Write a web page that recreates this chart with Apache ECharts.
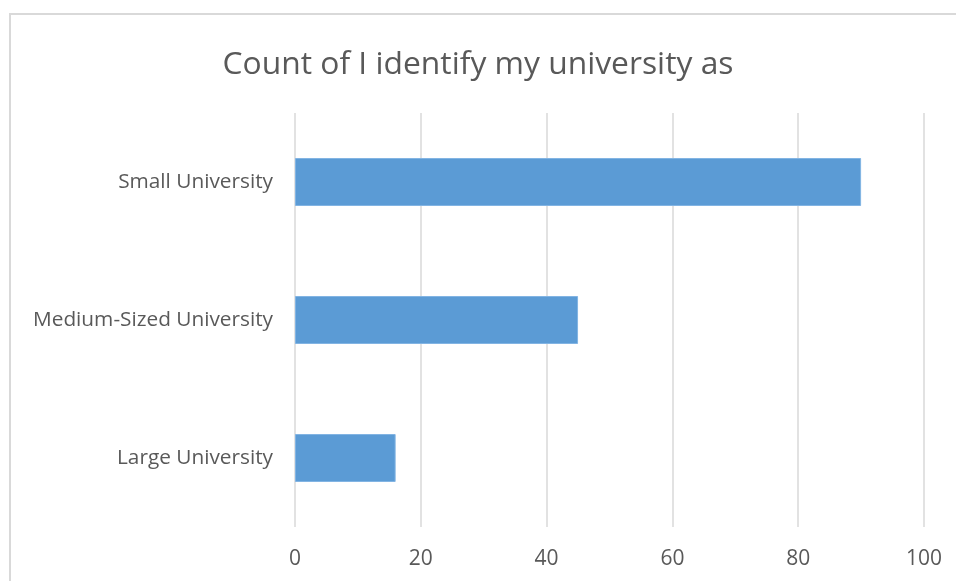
<!DOCTYPE html>
<html><head><meta charset="utf-8">
<script src="https://cdn.jsdelivr.net/npm/echarts@6/dist/echarts.min.js"></script>
<style>html,body{margin:0;padding:0;background:#fff}#c{width:956px;height:581px}</style>
</head><body><div id="c"></div>
<script>
const titleText = 'Count of I identify my university as';
const categories = ['Large University', 'Medium-Sized University', 'Small University'];
const counts = [16, 45, 90];
const xTicks = { min: 0, max: 100, interval: 20 };

const chart = echarts.init(document.getElementById('c'), null, { renderer: 'canvas' });
chart.setOption({
  animation: false,
  backgroundColor: '#fff',
  title: {
    text: titleText, left: 'center', top: 44,
    textStyle: { fontFamily: 'Open Sans', fontSize: 31.8, fontWeight: 'normal', color: '#595959' }
  },
  graphic: [{
    type: 'rect', shape: { x: 10, y: 14, width: 1100, height: 1000 },
    style: { fill: 'none', stroke: '#D9D9D9', lineWidth: 2 }, silent: true
  }],
  grid: { left: 295, right: 32, top: 113, bottom: 54, containLabel: false },
  xAxis: {
    type: 'value', min: xTicks.min, max: xTicks.max, interval: xTicks.interval,
    axisLine: { show: false }, axisTick: { show: false },
    splitLine: { lineStyle: { color: '#D9D9D9', width: 1.5 } },
    axisLabel: { color: '#595959', fontFamily: 'Open Sans', fontSize: 21, margin: 22 }
  },
  yAxis: {
    type: 'category', data: categories,
    axisLine: { show: false }, axisTick: { show: false },
    axisLabel: { color: '#595959', fontFamily: 'Open Sans', fontSize: 20.8, margin: 22 }
  },
  series: [{
    type: 'bar', data: counts, barWidth: 48,
    itemStyle: { color: '#5B9BD5', borderColor: '#82B4E3', borderWidth: 1 }
  }]
});
</script></body></html>
